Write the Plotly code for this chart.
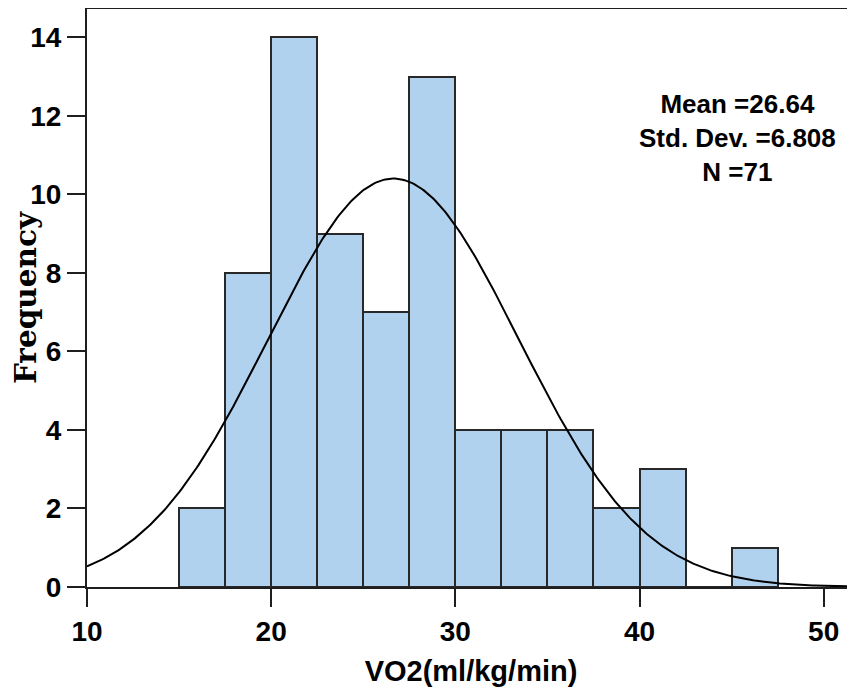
import numpy as np
import plotly.graph_objects as go

# Histogram data (bin width 2.5)
bin_starts = [15.0, 17.5, 20.0, 22.5, 25.0, 27.5, 30.0, 32.5, 35.0, 37.5, 40.0, 42.5, 45.0]
counts = [2, 8, 14, 9, 7, 13, 4, 4, 4, 2, 3, 0, 1]
bin_width = 2.5

# Summary statistics shown on chart
mean_val = 26.64
std_val = 6.808
n_val = 71

x_ticks = [10, 20, 30, 40, 50]
y_ticks = [0, 2, 4, 6, 8, 10, 12, 14]

x_range = [10, 51.7]
y_range = [0, 14.72]

stat_lines = [f"Mean ={mean_val}", f"Std. Dev. ={std_val}", f"N ={n_val}"]

centers = [s + bin_width / 2 for s in bin_starts]

# Fitted normal curve scaled to counts
xc = np.linspace(x_range[0], x_range[1], 400)
yc = n_val * bin_width / (std_val * np.sqrt(2 * np.pi)) * np.exp(-0.5 * ((xc - mean_val) / std_val) ** 2)

fig = go.Figure()
fig.add_trace(go.Bar(
    x=centers, y=counts, width=bin_width,
    marker=dict(color="rgb(176,210,238)", line=dict(color="rgb(40,40,40)", width=2)),
    showlegend=False,
))
fig.add_trace(go.Scatter(
    x=xc, y=yc, mode="lines",
    line=dict(color="black", width=2),
    showlegend=False,
))

tick_font = dict(family="Liberation Sans, Arial, sans-serif", size=28, color="black", weight="bold")

# figure is drawn with the page's 8px body margin: width/height reduced accordingly
W, H = 847, 680
L, T, B = 79, 1, 101
plot_h = H - T - B

fig.update_layout(
    width=W, height=H,
    margin=dict(l=L, r=0, t=T, b=B, autoexpand=False),
    plot_bgcolor="white", paper_bgcolor="white",
    bargap=0,
    xaxis=dict(
        range=x_range, tickvals=x_ticks, ticktext=[str(v) for v in x_ticks],
        showgrid=False, zeroline=False, automargin=False,
        showline=True, linecolor="rgb(30,30,30)", linewidth=2, mirror=True,
        ticks="outside", ticklen=18, tickwidth=2, tickcolor="rgb(30,30,30)",
        tickfont=tick_font,
        title=dict(text="VO2(ml/kg/min)", font=dict(family="Liberation Sans, Arial, sans-serif", size=29, color="black", weight="bold")),
    ),
    yaxis=dict(
        range=y_range, tickvals=y_ticks, ticktext=[str(v) for v in y_ticks],
        showgrid=False, zeroline=False, automargin=False,
        showline=True, linecolor="rgb(30,30,30)", linewidth=2, mirror=False,
        ticks="outside", ticklen=18, tickwidth=2, tickcolor="rgb(30,30,30)",
        tickfont=tick_font,
        title=dict(text="Frequency", font=dict(family="DejaVu Serif, serif", size=29.5, color="black", weight="bold")),
    ),
)

# stats text block (centre at ~x=737, y=138 screen px)
ann_font = dict(family="Liberation Sans, Arial, sans-serif", size=26, color="black", weight="bold")
fig.add_annotation(
    x=(737 - 8 - L) / (W - L), y=1 - (138 - 8 - T) / plot_h,
    xref="paper", yref="paper", xanchor="center", yanchor="middle",
    showarrow=False, text="<br>".join(stat_lines), font=ann_font, align="center",
)

fig.write_html("out.html")
